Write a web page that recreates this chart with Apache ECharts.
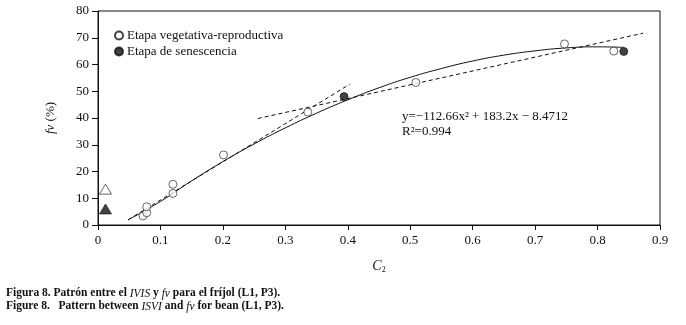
<!DOCTYPE html>
<html>
<head>
<meta charset="utf-8">
<script src="https://cdn.jsdelivr.net/npm/echarts@6/dist/echarts.min.js"></script>
<style>
  html, body { margin: 0; padding: 0; background: #fff; }
  #chart { width: 686px; height: 325px; }
</style>
</head>
<body>
<div id="chart"></div>
<script>
var vegPoints = [[0.072, 3.4], [0.078, 4.6], [0.078, 6.8], [0.12, 11.8], [0.12, 15.2],
  [0.201, 26.2], [0.336, 42.2], [0.509, 53.3], [0.747, 67.7], [0.826, 65.0]];
var senPoints = [[0.394, 48.0], [0.842, 64.9]];
var openTriangle = [[0.012, 13.4]];
var filledTriangle = [[0.012, 6.0]];

var curveX = [0.048, 0.1, 0.15, 0.2, 0.25, 0.3, 0.35, 0.4, 0.45, 0.5, 0.55, 0.6, 0.65, 0.7, 0.75, 0.8, 0.842];
var curveY = [1.9, 8.8, 16.5, 23.7, 30.3, 36.3, 41.8, 46.8, 51.3, 55.2, 58.5, 61.3, 63.5, 65.1, 66.2, 66.6, 66.4];

var dashLow = [[0.048, 1.9], [0.403, 52.6]];
var dashHigh = [[0.256, 39.8], [0.873, 71.7]];

var serif = '"Liberation Serif", "DejaVu Serif", serif';
var ink = '#111';

var chart = echarts.init(document.getElementById('chart'));

var option = {
  backgroundColor: '#fff',
  animation: false,
  textStyle: { fontFamily: serif, color: ink },
  grid: {
    left: 98, right: 26, top: 11, bottom: 100,
    show: true, borderColor: ink, borderWidth: 1
  },
  legend: {
    orient: 'vertical',
    left: 109, top: 24,
    itemWidth: 8, itemHeight: 8, itemGap: 3,
    textStyle: { fontFamily: serif, fontSize: 13, color: ink, padding: [0, 0, 0, -1] },
    data: [
      { name: 'Etapa vegetativa-reproductiva', icon: 'circle' },
      { name: 'Etapa de senescencia', icon: 'circle' }
    ]
  },
  xAxis: {
    type: 'value', min: 0, max: 0.9, interval: 0.1,
    name: '{i|C}{s|2}', nameLocation: 'middle', nameGap: 33,
    nameTextStyle: {
      rich: {
        i: { fontFamily: serif, fontStyle: 'italic', fontSize: 14, color: ink },
        s: { fontFamily: serif, fontSize: 8, color: ink, padding: [8, 0, 0, 0] }
      }
    },
    axisLine: { lineStyle: { color: ink, width: 1 } },
    axisTick: { show: true, length: 5, lineStyle: { color: ink } },
    splitLine: { show: false },
    axisLabel: {
      fontFamily: serif, fontSize: 13, color: ink, margin: 9,
      formatter: function (v) { return String(+v.toFixed(1)); }
    }
  },
  yAxis: {
    type: 'value', min: 0, max: 80, interval: 10,
    name: '{i|fv} (%)', nameLocation: 'middle', nameGap: 41, nameRotate: 90,
    nameTextStyle: {
      fontFamily: serif, fontSize: 13, color: ink,
      rich: { i: { fontFamily: serif, fontStyle: 'italic', fontSize: 13, color: ink } }
    },
    axisLine: { show: true, lineStyle: { color: ink, width: 1 } },
    axisTick: { show: true, length: 6, lineStyle: { color: ink } },
    splitLine: { show: false },
    axisLabel: { fontFamily: serif, fontSize: 13, color: ink, margin: 9 }
  },
  series: [
    {
      name: 'fit', type: 'line', smooth: true, showSymbol: false, silent: true,
      data: curveX.map(function (x, i) { return [x, curveY[i]]; }),
      lineStyle: { color: ink, width: 1 }, z: 2
    },
    {
      name: 'dash1', type: 'line', showSymbol: false, silent: true, data: dashLow,
      lineStyle: { color: ink, width: 1, type: [4, 3] }, z: 2
    },
    {
      name: 'dash2', type: 'line', showSymbol: false, silent: true, data: dashHigh,
      lineStyle: { color: ink, width: 1, type: [4, 3] }, z: 2
    },
    {
      name: 'Etapa vegetativa-reproductiva', type: 'scatter', symbol: 'circle', symbolSize: 8,
      data: vegPoints,
      itemStyle: { color: '#fff', borderColor: ink, borderWidth: 0.8 }, z: 5
    },
    {
      name: 'Etapa de senescencia', type: 'scatter', symbol: 'circle', symbolSize: 8,
      data: senPoints,
      itemStyle: { color: ink, borderColor: ink, borderWidth: 0.8 }, z: 5
    },
    {
      name: 'open triangle', type: 'scatter', symbol: 'triangle', symbolSize: [12, 10],
      data: openTriangle,
      itemStyle: { color: '#fff', borderColor: ink, borderWidth: 0.8 }, z: 5
    },
    {
      name: 'filled triangle', type: 'scatter', symbol: 'triangle', symbolSize: [12, 10],
      data: filledTriangle,
      itemStyle: { color: ink, borderColor: ink, borderWidth: 0.8 }, z: 5
    }
  ],
  graphic: [
    {
      type: 'text', left: 402, top: 109,
      style: {
        text: 'y=\u2212112.66x\u00b2 + 183.2x \u2212 8.4712\nR\u00b2=0.994',
        font: '13px ' + serif, fill: ink, lineHeight: 15
      }
    },
    {
      type: 'text', left: 6, top: 287,
      style: {
        text: 'Figura 8. Patrón entre el {i|IVIS} y {i|fv} para el fríjol (L1, P3).\nFigure 8.   Pattern between {i|ISVI} and {i|fv} for bean (L1, P3).',
        font: 'bold 11.5px ' + serif, fill: ink, lineHeight: 13,
        rich: { i: { fontFamily: serif, fontStyle: 'italic', fontSize: 11.5, fill: ink, lineHeight: 13 } }
      }
    }
  ]
};

chart.setOption(option);
</script>
</body>
</html>
